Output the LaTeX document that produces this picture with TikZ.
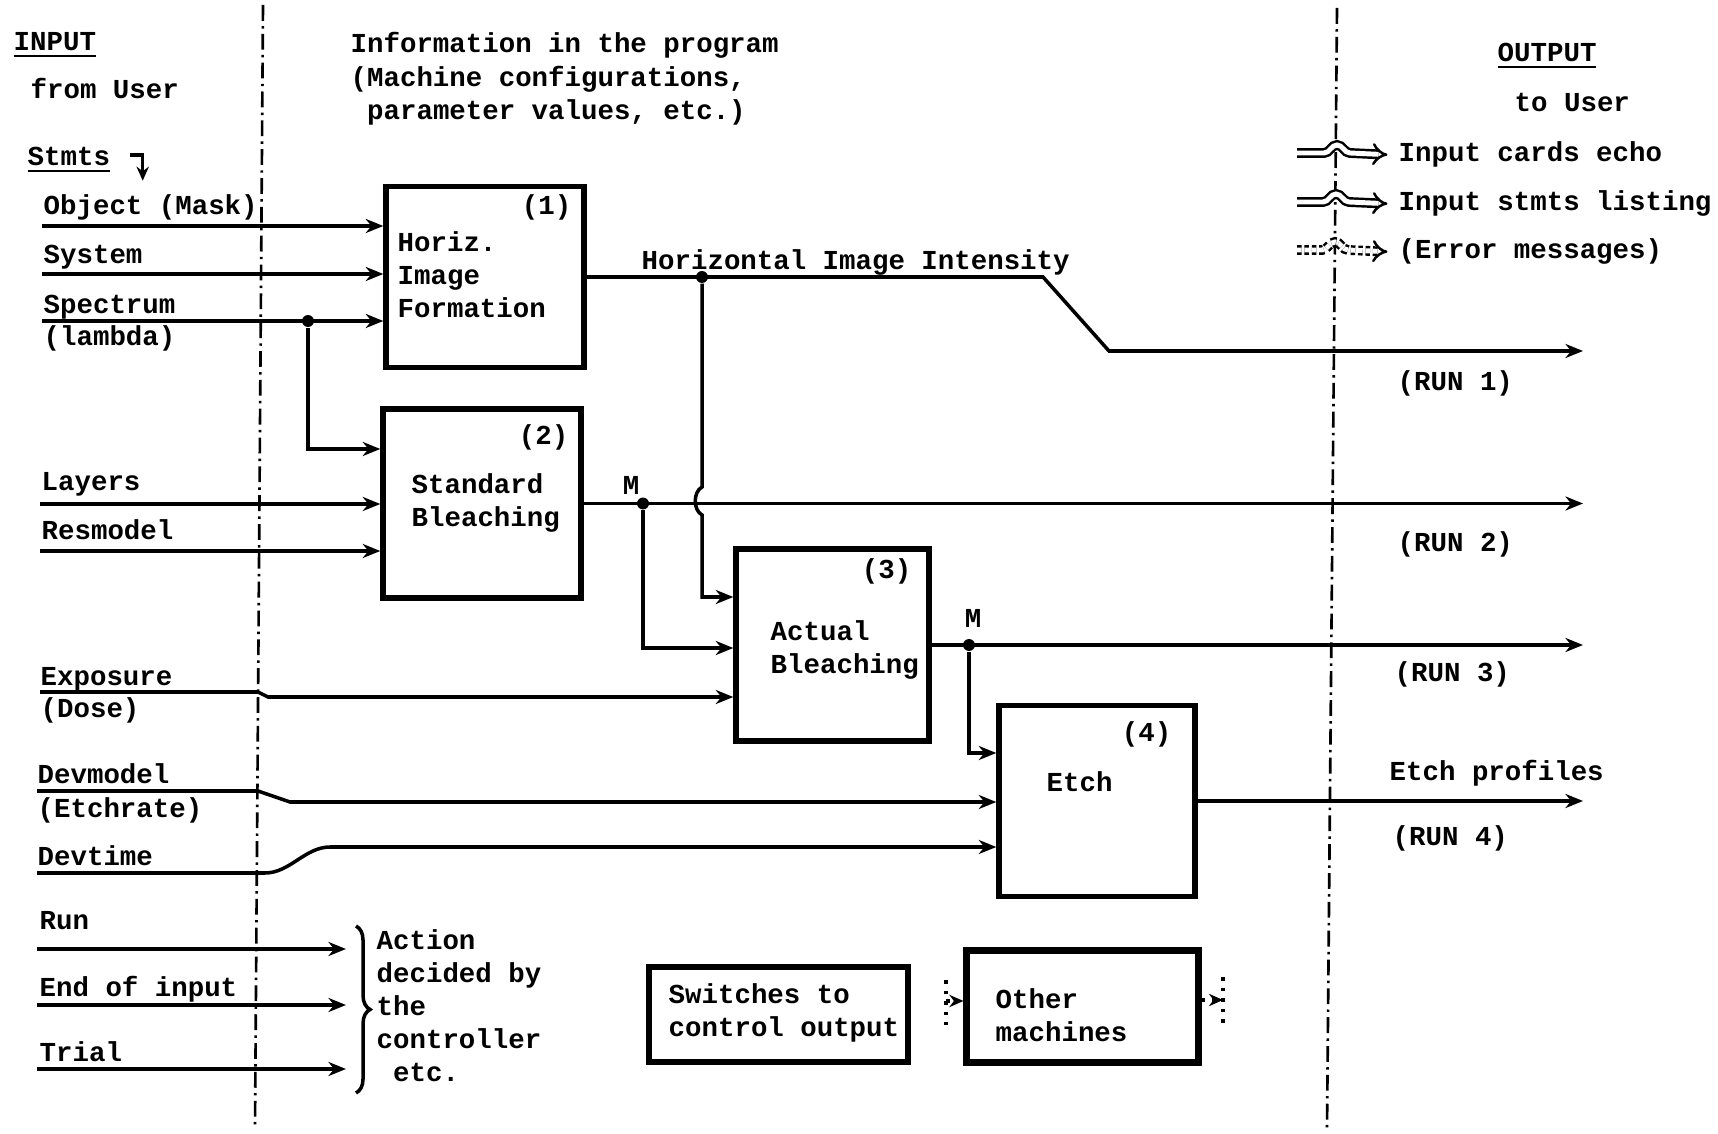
\documentclass[tikz,border=0pt]{standalone}
\usepackage{fontspec}
\setmonofont{Liberation Mono}
\usepackage{tikz}
\usetikzlibrary{arrows.meta,decorations.pathreplacing}

\begin{document}
\begin{tikzpicture}[x=0.01cm,y=-0.01cm,
  txt/.style={font=\ttfamily\bfseries\fontsize{7.8}{9.4}\selectfont, inner sep=0pt, anchor=west, text height=5.6pt, text depth=1.7pt, yshift=-0.5pt},
  txtm/.style={font=\ttfamily\bfseries\fontsize{7.8}{9.4}\selectfont, inner sep=0pt, anchor=west, align=left, yshift=-0.5pt},
  blk/.style={draw, line width=1.5pt, inner sep=0pt},
  ln/.style={line width=1pt},
  arr/.style={ln, -{Stealth[length=5pt,width=4pt]}},
  leg/.style={double, double distance=1.4pt, line width=0.7pt, -{Implies}},
  divider/.style={line width=0.75pt, dash pattern=on 4.5pt off 1.5pt on 0.7pt off 1.5pt},
  jdot/.style={circle, fill, inner sep=0pt, minimum size=3.4pt}]
\useasboundingbox (0,0) rectangle (1718,1134);

% column dividers
\draw[divider] (263,5) -- (255,1128);
\draw[divider] (1337,8) -- (1327,1130);

% headings
\node[txt] (inp) at (13,42) {\underline{INPUT}};
\node[txt] (fru) at (30,90) {from User};
\node[txt] (stm) at (27,157) {\underline{Stmts}};
\draw[ln, -{Stealth[length=4pt,width=3.5pt]}] ([shift={(19,-4)}]stm.east) -- ++(13,0) -- ++(0,26);
\node[txtm] (info) at (350,77) {Information in the program\\(Machine configurations,\\\phantom{(}parameter values, etc.)};
\node[txt] (outp) at (1497,53) {\underline{OUTPUT}};
\node[txt] (tou) at (1514,103) {to User};

% legend
\node[txt] (ech) at (1398,153) {Input cards echo};
\node[txt] (lst) at (1398,202) {Input stmts listing};
\node[txt] (err) at (1398,250) {(Error messages)};
\draw[leg] (1297,153) -- (1324,153) .. controls (1330,153) and (1331,145) .. (1337,145) .. controls (1343,145) and (1344,153) .. (1350,153) -- ([xshift=-3pt]ech.west);
\draw[leg] (1297,202) -- (1323,202) .. controls (1329,202) and (1330,194) .. (1336,194) .. controls (1342,194) and (1343,202) .. (1349,202) -- ([xshift=-3pt]lst.west);
\draw[leg, dash pattern=on 1.3pt off 0.8pt] (1297,250) -- (1322,250) .. controls (1328,250) and (1329,242) .. (1335,242) .. controls (1341,242) and (1342,250) .. (1348,250) -- ([xshift=-3pt]err.west);

% machines
\node[blk, minimum width=1.98cm, minimum height=1.81cm] (b1) at (485,277) {};
\node[blk, minimum width=1.98cm, minimum height=1.89cm] (b2) at (482,503.5) {};
\node[blk, minimum width=1.93cm, minimum height=1.92cm] (b3) at (832.5,645) {};
\node[blk, minimum width=1.96cm, minimum height=1.91cm] (b4) at (1097,801) {};
\node[blk, minimum width=2.59cm, minimum height=0.95cm] (sw) at (778.5,1014.5) {};
\node[blk, line width=2pt, minimum width=2.31cm, minimum height=1.11cm] (om) at (1082.5,1006.5) {};

\node[txt, anchor=east] (n1) at (572,206) {(1)};
\node[txtm] (b1t) at (397,273) {Horiz.\\Image\\Formation};
\node[txt, anchor=east] (n2) at (569,436) {(2)};
\node[txtm] (b2t) at (411,501.5) {Standard\\Bleaching};
\node[txt, anchor=east] (n3) at (912,570) {(3)};
\node[txtm] (b3t) at (770,648.5) {Actual\\Bleaching};
\node[txt, anchor=east] (n4) at (1172,733) {(4)};
\node[txt] (b4t) at (1046,783) {Etch};
\node[txtm] (swt) at (668,1011) {Switches to\\control output};
\node[txtm] (omt) at (995,1013.5) {Other\\machines};

% inputs from user
\coordinate (objS) at (42,226);
\coordinate (sysS) at (42,274);
\coordinate (speS) at (42,321);
\coordinate (layS) at (40,504);
\coordinate (resS) at (40,551);
\coordinate (expS) at (40,692);
\coordinate (devS) at (37,791);
\coordinate (dtS) at (37,873);
\coordinate (runS) at (37,949);
\coordinate (eoiS) at (37,1005);
\coordinate (trS) at (37,1069);
\coordinate (rx) at (1583,0);
\coordinate (bx) at (346,0);

\node[txt] (objl) at (43,206) {Object (Mask)};
\node[txt] (sysl) at (43,255) {System};
\node[txt] (spel) at (43,305) {Spectrum};
\node[txt] (laml) at (43,337) {(lambda)};
\node[txt] (layl) at (41,482) {Layers};
\node[txt] (resl) at (41,531) {Resmodel};
\node[txt] (expl) at (40,677) {Exposure};
\node[txt] (dosl) at (40,709) {(Dose)};
\node[txt] (devl) at (37,775) {Devmodel};
\node[txt] (etrl) at (37,809) {(Etchrate)};
\node[txt] (dtl) at (37,857) {Devtime};
\node[txt] (runl) at (39,921) {Run};
\node[txt] (eoil) at (39,988) {End of input};
\node[txt] (trl) at (39,1053) {Trial};

\draw[arr] (objS) -- (objS -| b1.west);
\draw[arr] (sysS) -- (sysS -| b1.west);
\draw[arr] (speS) -- (speS -| b1.west);
\node[jdot] (sd) at (308,321) {};
\draw[arr] (sd) |- (b2.west |- 0,449);
\draw[arr] (layS) -- (layS -| b2.west);
\draw[arr] (resS) -- (resS -| b2.west);
\draw[arr] (expS) -- (258,692) -- (268,697) -- (b3.west |- 0,697);
\draw[arr] (devS) -- (258,791) -- (290,802) -- (b4.west |- 0,802);
\draw[arr] (dtS) -- (265,873) .. controls (290,873) and (305,847) .. (330,847) -- (b4.west |- 0,847);
\draw[arr] (runS) -- (runS -| bx);
\draw[arr] (eoiS) -- (eoiS -| bx);
\draw[arr] (trS) -- (trS -| bx);
\draw[ln, decorate, decoration={brace, amplitude=4pt}] (356,926) -- (356,1093);
\node[txtm] (act) at (376,1007) {Action\\decided by\\the\\controller\\\phantom{(}etc.};

% between machines and outputs
\node[txt] (hii) at (641,261) {Horizontal Image Intensity};
\draw[arr] (b1.east) -- (1043,277) -- (1109,351) -- (1583,351);
\node[jdot] (hd) at (702,277) {};
\draw[arr] (hd) -- (702,487) .. controls (693,492) and (693,510) .. (702,515) -- (702,597) -- (b3.west |- 0,597);
\draw[arr] (b2.east) -- (b2.east -| rx);
\node[jdot] (m2) at (643,503.5) {};
\node[txt, anchor=center] (m2l) at (631,486) {M};
\draw[arr] (m2) |- (b3.west |- 0,648);
\draw[arr] (b3.east) -- (b3.east -| rx);
\node[jdot] (m3) at (969,645) {};
\node[txt, anchor=center] (m3l) at (973,619) {M};
\draw[arr] (m3) |- (b4.west |- 0,753);
\draw[arr] (b4.east) -- (b4.east -| rx);

\node[txt] (run1) at (1397,382) {(RUN 1)};
\node[txt] (run2) at (1397,543) {(RUN 2)};
\node[txt] (run3) at (1394,673) {(RUN 3)};
\node[txt] (ep) at (1389,772) {Etch profiles};
\node[txt] (run4) at (1392,837) {(RUN 4)};

% other machines stubs
\coordinate (omL) at (946,1001);
\coordinate (omR) at (1223,1000);
\draw[ln, dotted] (946,980) -- (946,1025);
\draw[ln, dotted, -{Stealth[length=4pt,width=3.5pt]}] (omL) -- (omL -| om.west);
\draw[ln, dotted] (1223,977) -- (1223,1027);
\draw[ln, dotted, -{Stealth[length=4pt,width=3.5pt]}] (omR -| om.east) -- (omR);
\end{tikzpicture}
\end{document}
